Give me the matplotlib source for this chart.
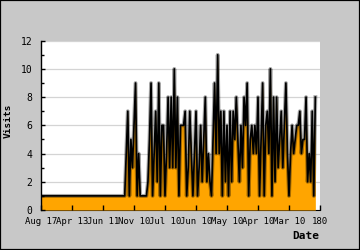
import numpy as np
import matplotlib
matplotlib.use('Agg')
import matplotlib.pyplot as plt
from matplotlib.patches import Rectangle

# daily visits, one value per day index
visits = [1] * 54 + [
    1, 4, 7, 1, 5, 3, 6, 9, 1, 4,
    1, 1, 1, 1, 1, 2, 5, 9, 1, 4,
    7, 2, 9, 1, 6, 6, 1, 4, 8, 3,
    8, 3, 10, 3, 8, 1, 6, 6, 6, 7,
    1, 3, 7, 4, 1, 4, 7, 1, 3, 6,
    2, 5, 8, 2, 4, 2, 1, 5, 9, 4,
    11, 4, 7, 1, 7, 2, 6, 1, 7, 2,
    7, 5, 8, 5, 2, 6, 3, 8, 6, 9,
    1, 5, 6, 4, 6, 4, 8, 1, 5, 9,
    1, 6, 7, 4, 10, 1, 8, 2, 8, 3,
    5, 7, 3, 6, 9, 4, 1, 4, 6, 4,
    5, 6, 6, 7, 4, 5, 5, 8, 2, 4,
    2, 7, 1, 8]
days = np.arange(len(visits))

tick_pos = [0, 20, 40, 60, 80, 100, 120, 140, 160, 180]
tick_labels = ['Aug 17', 'Apr 13', 'Jun 11', 'Nov 10', 'Jul 10',
               'Jun 10', 'May 10', 'Apr 10', 'Mar 10', '180']

mono = 'DejaVu Sans Mono'

fig = plt.figure(figsize=(3.6, 2.5), dpi=100, facecolor='#c8c8c8')
fig.patches.append(Rectangle((0, 0), 1, 1, transform=fig.transFigure,
                             fill=False, edgecolor='black', linewidth=1.6))
ax = fig.add_axes([41/360, 1 - 210/250, 279/360, 169.3/250])
ax.set_facecolor('white')

for g in [2, 4, 6, 8, 10, 12]:
    ax.axhline(g, color='#d4d4d4', linewidth=0.9, zorder=0.5)

ax.fill_between(days, visits, 0, color='#ffa500', linewidth=0, zorder=1)
ax.plot(days, visits, color='black', linewidth=2.8, alpha=0.35, zorder=1.2)
ax.plot(days, visits, color='black', linewidth=1.25, zorder=1.3)

ax.set_xlim(0, 180)
ax.set_ylim(0, 12)
ax.set_axisbelow(False)
ax.spines['top'].set_visible(False)
ax.spines['right'].set_visible(False)
ax.spines['bottom'].set_zorder(0.9)
ax.spines['left'].set_linewidth(1.0)

ax.set_xticks(tick_pos)
ax.set_xticklabels(tick_labels, fontfamily=mono, fontsize=6.5)
ax.set_yticks(range(0, 13, 2))
ax.set_yticks(range(1, 12, 2), minor=True)
ax.set_yticklabels([str(v) for v in range(0, 13, 2)], fontfamily=mono, fontsize=7)
ax.tick_params(axis='x', direction='in', length=3.6, width=1, pad=5)
ax.tick_params(axis='y', which='major', direction='in', length=3, width=1, pad=6)
ax.tick_params(axis='y', which='minor', direction='in', length=2.3, width=1)

fig.text(8.5/360, 1 - 121/250, 'Visits', rotation=90, ha='center', va='center',
         fontfamily=mono, fontweight='bold', fontsize=6.8)
fig.text(319/360, 1 - 236/250, 'Date', ha='right', va='center',
         fontfamily=mono, fontweight='bold', fontsize=8)

fig.savefig('out.png', dpi=100, facecolor=fig.get_facecolor())
